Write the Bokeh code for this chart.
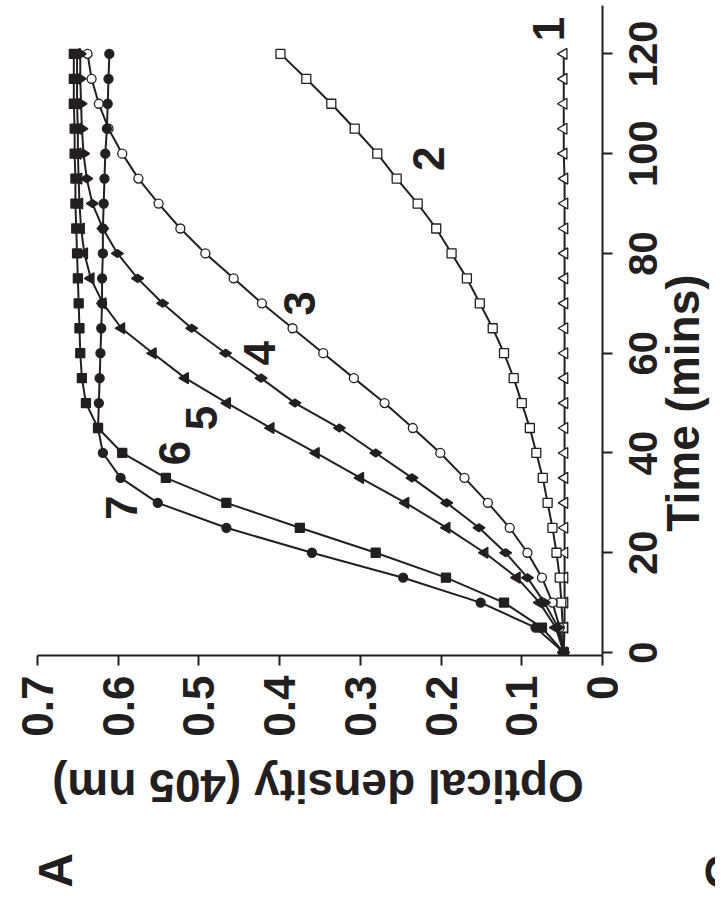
import math
from bokeh.plotting import figure
from bokeh.layouts import column, row
from bokeh.models import Range1d, FixedTicker, Label
from bokeh.embed import file_html
from bokeh.resources import INLINE

# ---- data ----
time_min = [0, 5, 10, 15, 20, 25, 30, 35, 40, 45, 50, 55, 60, 65, 70, 75, 80, 85, 90, 95, 100, 105, 110, 115, 120]

od_1 = [0.048, 0.047, 0.047, 0.047, 0.047, 0.047, 0.047, 0.047, 0.047, 0.047, 0.047, 0.047, 0.047,
        0.047, 0.047, 0.047, 0.047, 0.047, 0.047, 0.047, 0.048, 0.048, 0.048, 0.048, 0.048]
od_2 = [0.048, 0.049, 0.051, 0.053, 0.057, 0.062, 0.068, 0.074, 0.082, 0.090, 0.100, 0.110, 0.122,
        0.136, 0.152, 0.168, 0.187, 0.206, 0.229, 0.255, 0.279, 0.307, 0.336, 0.367, 0.399]
od_3 = [0.048, 0.053, 0.062, 0.075, 0.093, 0.115, 0.142, 0.171, 0.201, 0.235, 0.270, 0.308, 0.346,
        0.384, 0.422, 0.457, 0.492, 0.523, 0.550, 0.575, 0.595, 0.612, 0.624, 0.633, 0.638]
od_4 = [0.048, 0.055, 0.072, 0.093, 0.120, 0.153, 0.193, 0.236, 0.281, 0.326, 0.381, 0.423, 0.467,
        0.509, 0.545, 0.576, 0.601, 0.619, 0.632, 0.639, 0.643, 0.645, 0.646, 0.647, 0.647]
od_5 = [0.048, 0.058, 0.078, 0.106, 0.146, 0.193, 0.244, 0.300, 0.355, 0.411, 0.465, 0.517, 0.557,
        0.596, 0.619, 0.634, 0.642, 0.646, 0.648, 0.649, 0.650, 0.650, 0.651, 0.651, 0.651]
od_6 = [0.048, 0.075, 0.122, 0.194, 0.281, 0.375, 0.466, 0.541, 0.595, 0.625, 0.640, 0.645, 0.647,
        0.648, 0.649, 0.650, 0.651, 0.652, 0.653, 0.653, 0.654, 0.654, 0.655, 0.655, 0.655]
od_7 = [0.048, 0.083, 0.151, 0.247, 0.360, 0.466, 0.551, 0.597, 0.619, 0.625, 0.624, 0.623, 0.622,
        0.621, 0.620, 0.620, 0.619, 0.619, 0.618, 0.617, 0.616, 0.614, 0.613, 0.612, 0.611]

series_names = ["1", "2", "3", "4", "5", "6", "7"]
series_markers = ["triangle", "square", "circle", "diamond", "triangle", "square", "circle"]
series_fill = ["white", "white", "white", "#231f20", "#231f20", "#231f20", "#231f20"]
series_size = [11, 9, 9, 12, 11, 9, 9]
# series label anchor positions (OD, time)
label_od = [0.067, 0.215, 0.376, 0.425, 0.497, 0.530, 0.596]
label_t = [125, 99, 70, 60, 47, 40, 29]

od_ticks = [0, 0.1, 0.2, 0.3, 0.4, 0.5, 0.6, 0.7]
od_tick_labels = ["0", "0.1", "0.2", "0.3", "0.4", "0.5", "0.6", "0.7"]
time_ticks = [0, 20, 40, 60, 80, 100, 120]
time_tick_labels = ["0", "20", "40", "60", "80", "100", "120"]

x_title = "Optical density (405 nm)"
y_title = "Time (mins)"
y_title_center_t = 50

INK = "#231f20"
FONT = "Liberation Sans"
ROT = math.pi / 2

# ---- layout geometry (screen pixels) ----
TOTAL_W = 715
FRAME_L, FRAME_T, FRAME_W, FRAME_H = 37, 5, 565, 650
P_W, P_H = 618, 745
BOTTOM_H = 155
T_START, T_END = -0.6, 129.7
ppm = FRAME_H / (T_END - T_START)
TICK_LABEL_X = 642      # centre of the time tick labels
TITLE_X = 682           # centre of the time axis title


def bare(fig):
    fig.outline_line_color = None
    fig.background_fill_color = "white"
    fig.border_fill_color = "white"
    for g in list(fig.xgrid) + list(fig.ygrid):
        g.visible = False


# ---- main plot ----
p = figure(width=P_W, height=P_H, output_backend="svg", toolbar_location=None,
           x_range=Range1d(0.7, 0.0), y_range=Range1d(T_START, T_END),
           x_axis_location="below", y_axis_location="right",
           min_border_left=FRAME_L, min_border_top=FRAME_T,
           min_border_right=P_W - FRAME_L - FRAME_W,
           min_border_bottom=P_H - FRAME_T - FRAME_H, frame_align=False)
bare(p)

for ax in (p.xaxis[0], p.yaxis[0]):
    ax.axis_line_color = INK
    ax.axis_line_width = 2
    ax.major_tick_line_color = INK
    ax.major_tick_line_width = 2
    ax.major_tick_out = 10
    ax.major_tick_in = 0
    ax.minor_tick_line_color = None
    ax.major_label_text_font = FONT
    ax.major_label_text_font_style = "bold"
    ax.major_label_text_color = INK

xa = p.xaxis[0]
xa.ticker = FixedTicker(ticks=od_ticks)
xa.major_label_overrides = dict(zip(od_ticks, od_tick_labels))
xa.major_label_text_font_size = "44px"
xa.major_label_orientation = ROT
xa.major_label_standoff = 10

ya = p.yaxis[0]
ya.ticker = FixedTicker(ticks=time_ticks)
ya.major_label_text_font_size = "0px"
ya.major_label_text_alpha = 0
ya.major_label_standoff = 0

all_od = [od_1, od_2, od_3, od_4, od_5, od_6, od_7]
for od in all_od:
    p.line(od, time_min, line_color=INK, line_width=2)
for od, mk, fc, sz in zip(all_od, series_markers, series_fill, series_size):
    p.scatter(od, time_min, marker=mk, size=sz, fill_color=fc, line_color=INK,
              line_width=1.3, angle=ROT)

for name, lx, ly in zip(series_names, label_od, label_t):
    p.add_layout(Label(x=lx, y=ly, text=name, angle=ROT, text_align="center",
                       text_baseline="middle", text_font=FONT, text_font_style="bold",
                       text_font_size="44px", text_color=INK))

# ---- right strip: time tick labels and title, on the same time scale ----
PR_W = TOTAL_W - P_W
pr_y0 = T_START - (P_H - FRAME_T - FRAME_H) / ppm
pr_y1 = T_END + FRAME_T / ppm
pr = figure(width=PR_W, height=P_H, output_backend="svg", toolbar_location=None,
            x_range=Range1d(0, PR_W), y_range=Range1d(pr_y0, pr_y1),
            x_axis_type=None, y_axis_type=None, min_border=0, frame_align=False)
bare(pr)
for t, lbl in zip(time_ticks, time_tick_labels):
    pr.add_layout(Label(x=TICK_LABEL_X - P_W, y=t, text=lbl, angle=ROT, text_align="center",
                        text_baseline="middle", text_font=FONT, text_font_style="bold",
                        text_font_size="40px", text_color=INK))
pr.add_layout(Label(x=TITLE_X - P_W, y=y_title_center_t, text=y_title, angle=ROT,
                    text_align="center", text_baseline="middle", text_font=FONT,
                    text_font_style="bold", text_font_size="46px", text_color=INK))

# ---- bottom strip: OD axis title (upside down) and panel letters ----
pb = figure(width=TOTAL_W, height=BOTTOM_H, output_backend="svg", toolbar_location=None,
            x_range=Range1d(0, TOTAL_W), y_range=Range1d(BOTTOM_H, 0),
            x_axis_type=None, y_axis_type=None, min_border=0, frame_align=False)
bare(pb)
pb.add_layout(Label(x=FRAME_L + FRAME_W / 2 - 2, y=40, text=x_title, angle=math.pi,
                    text_align="center", text_baseline="middle", text_font=FONT,
                    text_font_style="bold", text_font_size="46px", text_color=INK))
pb.add_layout(Label(x=55, y=125, text="A", angle=ROT, text_align="center",
                    text_baseline="middle", text_font=FONT, text_font_style="bold",
                    text_font_size="48px", text_color=INK))
pb.add_layout(Label(x=722, y=127, text="C", angle=ROT, text_align="center",
                    text_baseline="middle", text_font=FONT, text_font_style="bold",
                    text_font_size="48px", text_color=INK))

layout = column(row(p, pr), pb)
open("out.html", "w").write(file_html(layout, INLINE))
